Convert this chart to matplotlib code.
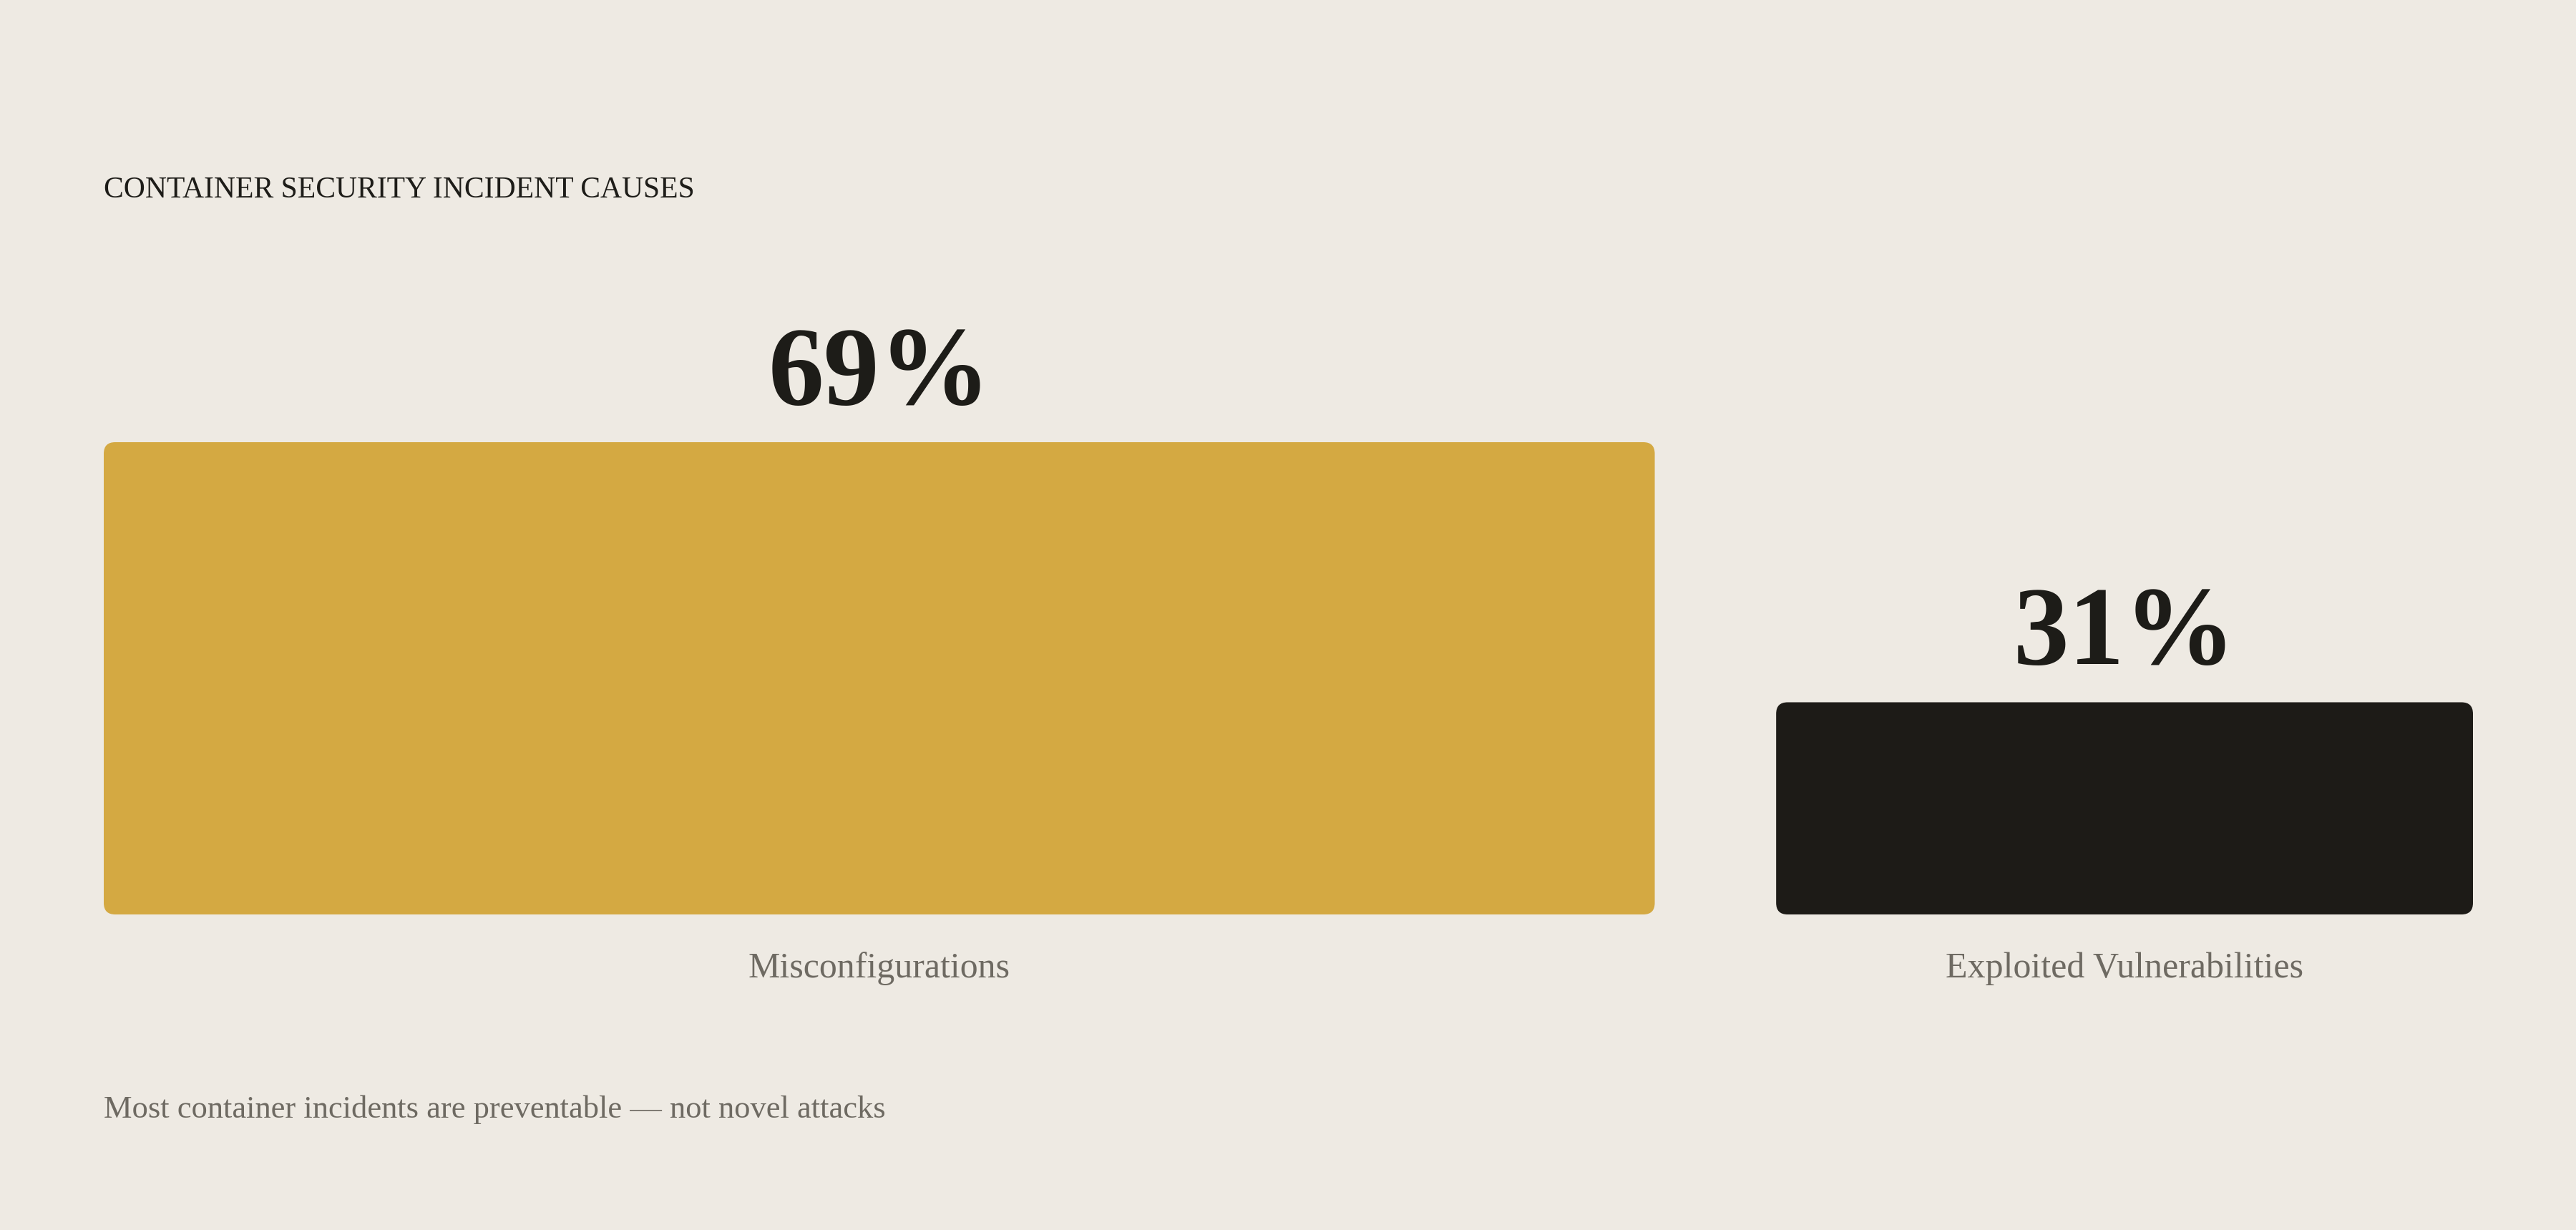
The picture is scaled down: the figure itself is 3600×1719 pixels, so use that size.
import matplotlib
matplotlib.use("Agg")
import matplotlib.pyplot as plt
from matplotlib.patches import FancyBboxPatch

# ---- data ----
categories = ["Misconfigurations", "Exploited Vulnerabilities"]
values = [69, 31]
title = "CONTAINER SECURITY INCIDENT CAUSES"
footnote = "Most container incidents are preventable \u2014 not novel attacks"

# ---- style ----
BG = "#eeeae3"
COLORS = ["#d4a942", "#1d1b17"]
INK = "#1d1c18"
GRAY = "#6e6a62"
FONT = ["Liberation Serif", "DejaVu Serif"]
plt.rcParams["font.family"] = FONT

W, H, DPI = 3600, 1719, 200
fig = plt.figure(figsize=(W / DPI, H / DPI), dpi=DPI, facecolor=BG)

# axes region in pixels
left_px, right_px, top_px, base_px = 145, 3456, 618, 1278
ax = fig.add_axes([left_px / W, (H - base_px) / H, (right_px - left_px) / W, (base_px - top_px) / H])
ax.set_facecolor(BG)
ax.axis("off")

gap = 5.4
lefts = []
acc = 0.0
for v in values:
    lefts.append(acc)
    acc += v + gap
total = sum(values) + gap * (len(values) - 1)
ax.set_xlim(0, total)
ax.set_ylim(0, max(values))

bars = ax.bar(lefts, values, width=values, align="edge", color=COLORS)

# pixel scale for rounded corners
px_per_x = (right_px - left_px) / total
px_per_y = (base_px - top_px) / max(values)
r_px = 16
for b, c in zip(bars, COLORS):
    x0, y0 = b.get_x(), b.get_y()
    w, h = b.get_width(), b.get_height()
    b.remove()
    p = FancyBboxPatch((x0, y0), w, h,
                       boxstyle=f"round,pad=0,rounding_size={r_px / px_per_x}",
                       mutation_aspect=px_per_x / px_per_y,
                       facecolor=c, edgecolor="none", clip_on=False)
    ax.add_patch(p)

pt = 72 / DPI
for l, v, cat in zip(lefts, values, categories):
    cx = l + v / 2
    ax.annotate(f"{v}%", (cx, v), xytext=(0, 53 * pt), textcoords="offset points",
                ha="center", va="baseline", fontsize=56, fontweight="bold",
                color=INK, annotation_clip=False)
    ax.annotate(cat, (cx, 0), xytext=(0, -88 * pt), textcoords="offset points",
                ha="center", va="baseline", fontsize=18, color=GRAY,
                annotation_clip=False)

fig.text(145 / W, (H - 276) / H, title, ha="left", va="baseline",
         fontsize=15, color=INK)
fig.text(145 / W, (H - 1562) / H, footnote, ha="left", va="baseline",
         fontsize=16, color=GRAY)

fig.savefig("out.png", dpi=DPI, facecolor=BG)
